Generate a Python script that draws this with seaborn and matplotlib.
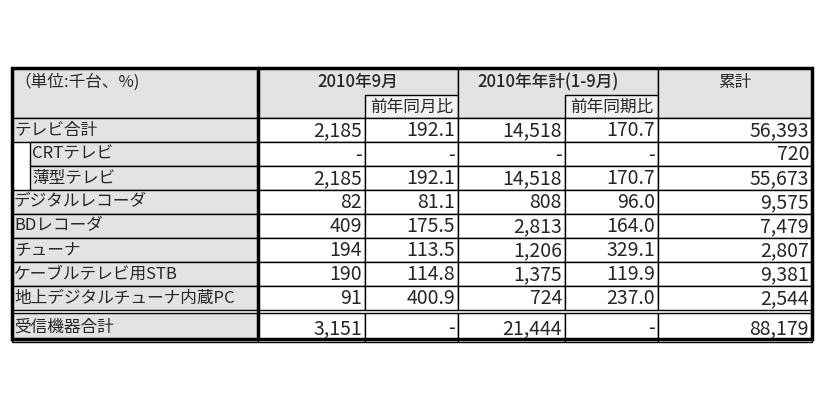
import matplotlib
matplotlib.use("Agg")
import matplotlib.pyplot as plt
import seaborn as sns

sns.set_theme(style="white")
plt.rcParams["font.family"] = "Noto Sans CJK JP"

rows = ["テレビ合計", "CRTテレビ", "薄型テレビ", "デジタルレコーダ", "BDレコーダ",
        "チューナ", "ケーブルテレビ用STB", "地上デジタルチューナ内蔵PC", "受信機器合計"]
sep2010 = ["2,185", "-", "2,185", "82", "409", "194", "190", "91", "3,151"]
sep_yoy = ["192.1", "-", "192.1", "81.1", "175.5", "113.5", "114.8", "400.9", "-"]
ytd2010 = ["14,518", "-", "14,518", "808", "2,813", "1,206", "1,375", "724", "21,444"]
ytd_yoy = ["170.7", "-", "170.7", "96.0", "164.0", "329.1", "119.9", "237.0", "-"]
cumul = ["56,393", "720", "55,673", "9,575", "7,479", "2,807", "9,381", "2,544", "88,179"]
indented = [1, 2]

fig = plt.figure(figsize=(8.26, 4.13), dpi=100)
ax = fig.add_axes([0, 0, 1, 1])
ax.set_xlim(0, 826)
ax.set_ylim(413, 0)
ax.axis("off")

xs = [12, 258, 365, 458, 565, 658, 812]
top, hmid, hbot = 68, 95, 118
rh = 24
gray = "#e3e3e3"

def rect(x0, y0, x1, y1, fc):
    ax.add_patch(plt.Rectangle((x0, y0), x1 - x0, y1 - y0, fc=fc, ec="black", lw=1))

# header
rect(xs[0], top, xs[1], hbot, gray)
rect(xs[1], top, xs[3], hbot, gray)
rect(xs[2], hmid, xs[3], hbot, "#f2f2f2")
rect(xs[3], top, xs[5], hbot, gray)
rect(xs[4], hmid, xs[5], hbot, "#f2f2f2")
rect(xs[5], top, xs[6], hbot, gray)
fs = 12
ax.text(xs[0] + 2, top + 14, "（単位:千台、%)", fontsize=fs, va="center")
ax.text(358, top + 14, "2010年9月", fontsize=fs, va="center", ha="center", weight="medium")
ax.text(548, top + 14, "2010年年計(1-9月)", fontsize=fs, va="center", ha="center", weight="medium")
ax.text(735, top + 14, "累計", fontsize=fs, va="center", ha="center")
ax.text((xs[2] + xs[3]) / 2, hmid + 12, "前年同月比", fontsize=fs, va="center", ha="center")
ax.text((xs[4] + xs[5]) / 2, hmid + 12, "前年同期比", fontsize=fs, va="center", ha="center")

cols = [sep2010, sep_yoy, ytd2010, ytd_yoy, cumul]
for i, name in enumerate(rows):
    y0 = hbot + i * rh
    h = rh
    if i == len(rows) - 1:
        y0 += 3
        h = rh + 5
    y1 = y0 + h
    lx = xs[0]
    if i in indented:
        ax.plot([xs[0], xs[0]], [y0, y1], color="black", lw=1)
        lx = 30
    rect(lx, y0, xs[1], y1, gray)
    ax.text(lx + 2, (y0 + y1) / 2, name, fontsize=fs, va="center")
    for j, col in enumerate(cols):
        rect(xs[j + 1], y0, xs[j + 2], y1, "white")
        ax.text(xs[j + 2] - 3, (y0 + y1) / 2 + 1, col[i], fontsize=14,
                va="center", ha="right")

bottom = hbot + len(rows) * rh + 5
ax.add_patch(plt.Rectangle((xs[0], top), xs[6] - xs[0], bottom - top,
                           fc="none", ec="black", lw=2.5))
ax.plot([xs[1], xs[1]], [top, bottom], color="black", lw=2.5)

fig.savefig("out.png", dpi=100)
